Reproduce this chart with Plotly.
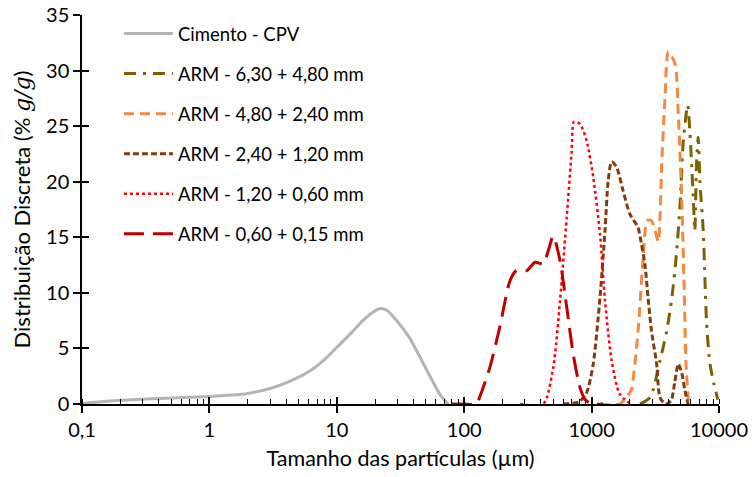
import plotly.graph_objects as go

# ---- data ----
cim_x = [0.1, 0.2, 0.4, 0.7, 1, 1.5, 2, 3, 4, 6, 8, 10, 13, 16, 20, 22, 25, 30, 37, 45, 55, 65, 75]
cim_y = [0.05, 0.33, 0.5, 0.6, 0.68, 0.8, 0.95, 1.4, 1.9, 2.9, 4.0, 5.1, 6.4, 7.5, 8.4, 8.6, 8.4, 7.4, 6.0, 4.2, 2.3, 0.8, 0.0]

a630_x = [2400, 2880, 3444, 3890, 4270, 4660, 4950, 5250, 5680, 5900, 6280, 6460, 6660, 6870, 7080, 7520, 7760, 8000, 8500, 9130, 9800]
a630_y = [0, 0.6, 3.9, 6.6, 9.6, 13.8, 18.0, 23.7, 26.9, 24.6, 18.6, 15.6, 21.6, 24.0, 20.1, 15.6, 11.1, 7.2, 3.6, 1.8, 0.4]

a480_x = [1160, 1660, 1995, 2065, 2318, 2520, 2734, 2950, 3147, 3342, 3444, 3550, 3770, 4000, 4520, 4790, 5090, 5310, 5510, 5750]
a480_y = [0, 0, 1.0, 1.4, 6.6, 12.6, 16.5, 16.5, 15.6, 14.6, 16.8, 21.6, 27.6, 31.7, 30.6, 26.1, 18.6, 11.1, 3.6, 0.3]

a240_x = [600, 800, 913, 1030, 1164, 1274, 1350, 1437, 1573, 1766, 1995, 2310, 2460, 2620, 2773, 2950, 3240, 3440, 3800, 4200, 4500, 4790, 5100, 5400, 5720]
a240_y = [0, 0.2, 1.0, 3.6, 9.6, 15.6, 20.1, 21.8, 21.3, 19.2, 17.1, 15.9, 14.4, 12.6, 9.6, 6.6, 3.6, 0.6, 0, 0.3, 2.0, 3.6, 2.8, 1.2, 0]

a120_x = [275, 417, 500, 565, 638, 698, 728, 810, 913, 1030, 1164, 1274, 1437, 1660, 1995]
a120_y = [0, 0, 3.3, 9.3, 16.8, 22.8, 25.4, 25.2, 23.7, 20.4, 15.3, 9.3, 3.9, 0.9, 0.05]

a060_x = [80, 100, 125, 133, 159, 190, 229, 257, 309, 360, 418, 457, 500, 565, 638, 717, 810, 890, 1000, 1230]
a060_y = [0, 0, 0, 0.7, 3.3, 6.9, 11.1, 12.0, 12.0, 12.75, 12.6, 13.8, 15.1, 12.9, 8.7, 4.5, 1.5, 0.4, 0, 0]

names = ["Cimento - CPV", "ARM - 6,30 + 4,80 mm", "ARM - 4,80 + 2,40 mm",
         "ARM - 2,40 + 1,20 mm", "ARM - 1,20 + 0,60 mm", "ARM - 0,60 + 0,15 mm"]

x_tickvals = [0.1, 1, 10, 100, 1000, 10000]
x_ticktext = ["0,1", "1", "10", "100", "1000", "10000"]
y_tickvals = [0, 5, 10, 15, 20, 25, 30, 35]

# ---- styles ----
series = [
    (cim_x, cim_y, "#B4B4B4", "solid", 3),
    (a630_x, a630_y, "#7F6000", "12px,7px,3px,7px", 3),
    (a480_x, a480_y, "#F4883C", "10px,6px", 3),
    (a240_x, a240_y, "#843C0C", "6px,3px", 3),
    (a120_x, a120_y, "#FF0000", "dot", 2.5),
    (a060_x, a060_y, "#C00000", "20px,9px", 3),
]

fig = go.Figure()
for i, ((xs, ys, col, dash, w), nm) in enumerate(zip(series, names)):
    fig.add_trace(go.Scatter(
        x=xs, y=ys, mode="lines", name=nm, legendgroup=f"g{i}",
        line=dict(color=col, dash=dash, width=w, shape="spline", smoothing=0.7),
    ))

font_main = "Lato, 'Open Sans', sans-serif"

fig.update_layout(
    width=752, height=477,
    margin=dict(l=82, r=33, t=15, b=73),
    plot_bgcolor="white", paper_bgcolor="white",
    font=dict(family=font_main, size=20, color="black"),
    showlegend=True,
    legend=dict(x=0.058, y=1.0, xanchor="left", yanchor="top",
                font=dict(size=18.5, family=font_main, color="black"),
                bgcolor="rgba(0,0,0,0)", itemwidth=49, tracegroupgap=13),
    xaxis=dict(
        type="log", range=[-1, 4], tickmode="array", tickvals=x_tickvals, ticktext=x_ticktext,
        showline=True, linecolor="black", linewidth=1.5, ticks="outside", ticklen=7,
        tickwidth=1.5, tickcolor="black", showgrid=False, zeroline=False, automargin=False,
        tickfont=dict(size=20), title=dict(text="Tamanho das partículas (µm)", font=dict(size=21.5), standoff=11),
        minor=dict(ticks="inside", ticklen=5, tickwidth=1.2, tickcolor="black", dtick="D1", showgrid=False),
    ),
    yaxis=dict(
        range=[0, 35], tickmode="array", tickvals=y_tickvals,
        showline=True, linecolor="black", linewidth=1.5, ticks="outside", ticklen=7,
        tickwidth=1.5, tickcolor="black", showgrid=False, zeroline=False, automargin=False,
        tickfont=dict(size=20),
        title=dict(text="Distribuição Discreta (% <i style='font-family:DejaVu Serif'>g/g</i>)", font=dict(size=22), standoff=9),
    ),
    xaxis2=dict(type="log", range=[-1, 4], overlaying="x", matches="x", tickmode="array", tickvals=x_tickvals,
                ticks="inside", ticklen=7, tickwidth=1.5, tickcolor="black", showticklabels=False,
                showline=False, showgrid=False, zeroline=False, automargin=False),
    yaxis2=dict(range=[0, 35], overlaying="y", matches="y", tickmode="array", tickvals=y_tickvals,
                ticks="inside", ticklen=7, tickwidth=1.5, tickcolor="black", showticklabels=False,
                showline=False, showgrid=False, zeroline=False, side="left", automargin=False),
)
# invisible helper trace so overlay axes are drawn
fig.add_trace(go.Scatter(x=[1], y=[0], xaxis="x2", yaxis="y2", mode="markers",
                         marker=dict(opacity=0), showlegend=False, hoverinfo="skip"))

fig.write_html("out.html")
